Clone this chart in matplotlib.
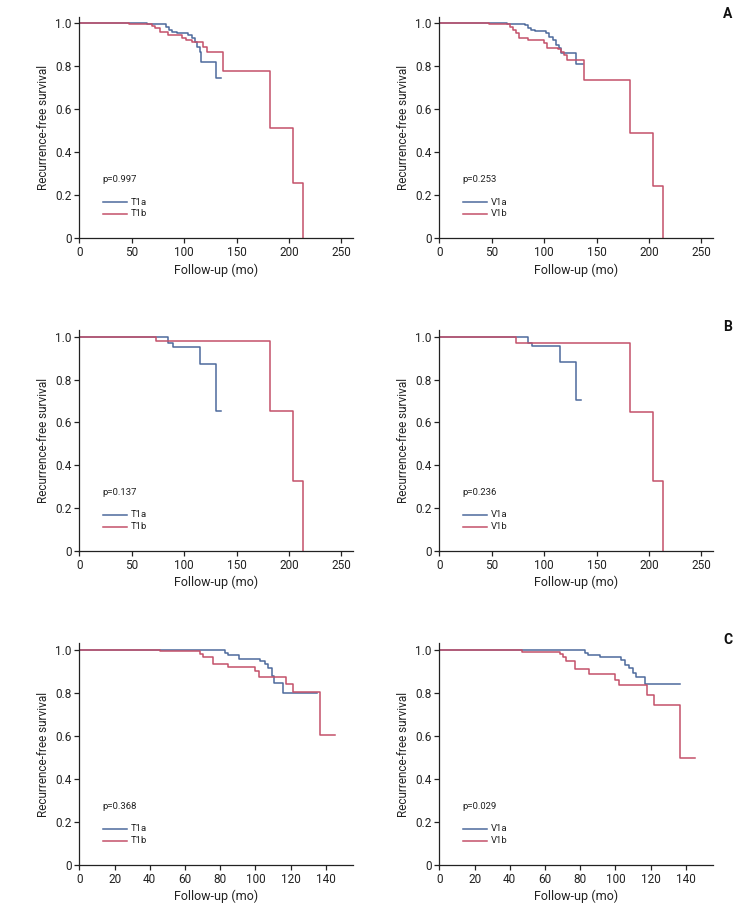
import matplotlib
matplotlib.use("Agg")
import matplotlib.pyplot as plt

plt.rcParams['font.family'] = ['Roboto', 'DejaVu Sans']

BLUE = "#4d6a9c"
RED = "#c4516a"

# ---- Data (Kaplan-Meier step curves: time in months, survival) ----
# Panel A left: T1a / T1b
a_t1a_t = [0, 65, 83, 85.5, 88, 93, 104, 107, 110, 112, 115, 116.5, 130, 135.5]
a_t1a_s = [1, 0.997, 0.984, 0.969, 0.961, 0.955, 0.946, 0.930, 0.915, 0.891, 0.868, 0.821, 0.744, 0.744]
a_t1b_t = [0, 47, 69, 72, 77, 85, 97.5, 102, 107, 118, 122, 137, 182, 204, 213]
a_t1b_s = [1, 0.997, 0.989, 0.977, 0.961, 0.946, 0.933, 0.922, 0.912, 0.891, 0.866, 0.778, 0.515, 0.256, 0]
# Panel A right: V1a / V1b
a_v1a_t = [0, 65, 82, 84.5, 87.6, 91, 102, 105, 108, 111.5, 114.6, 116, 130.5, 137]
a_v1a_s = [1, 0.998, 0.992, 0.977, 0.969, 0.965, 0.953, 0.938, 0.922, 0.899, 0.884, 0.860, 0.809, 0.809]
a_v1b_t = [0, 47, 67.6, 70, 73, 75.6, 84.5, 100, 102.5, 113, 115.6, 118.7, 122, 138, 182, 204, 213]
a_v1b_s = [1, 0.997, 0.984, 0.969, 0.953, 0.930, 0.922, 0.907, 0.887, 0.880, 0.868, 0.853, 0.829, 0.736, 0.49, 0.245, 0]
# Panel B left
b_t1a_t = [0, 23, 85, 89, 115, 130, 135.6]
b_t1a_s = [1, 0.997, 0.969, 0.953, 0.871, 0.653, 0.653]
b_t1b_t = [0, 73, 182, 204, 213.5]
b_t1b_s = [1, 0.980, 0.655, 0.325, 0]
# Panel B right
b_v1a_t = [0, 23, 85, 88.6, 115, 130, 135.6]
b_v1a_s = [1, 0.997, 0.969, 0.957, 0.881, 0.705, 0.705]
b_v1b_t = [0, 73, 182, 204, 213.5]
b_v1b_s = [1, 0.970, 0.65, 0.325, 0]
# Panel C left
c_t1a_t = [0, 46, 82.7, 84.6, 91, 102.5, 105.4, 107.3, 109.2, 110.5, 115.8, 135]
c_t1a_s = [1, 0.998, 0.988, 0.975, 0.96, 0.949, 0.933, 0.915, 0.879, 0.848, 0.801, 0.801]
c_t1b_t = [0, 46, 68.5, 70.4, 76, 84.6, 99.7, 102.2, 117.3, 121.5, 137, 145]
c_t1b_s = [1, 0.995, 0.98, 0.965, 0.937, 0.921, 0.902, 0.874, 0.843, 0.805, 0.605, 0.605]
# Panel C right
c_v1a_t = [0, 44, 82.7, 84.6, 91.2, 103.1, 105.4, 107.8, 110.1, 111.6, 116.7, 137]
c_v1a_s = [1, 0.998, 0.988, 0.977, 0.965, 0.952, 0.93, 0.915, 0.895, 0.872, 0.843, 0.843]
c_v1b_t = [0, 47, 68.5, 70, 72, 77, 85, 100, 102, 118, 122, 137, 145]
c_v1b_s = [1, 0.99, 0.98, 0.965, 0.95, 0.912, 0.887, 0.862, 0.835, 0.79, 0.742, 0.497, 0.497]

p_values = ["p=0.997", "p=0.253", "p=0.137", "p=0.236", "p=0.368", "p=0.029"]
panel_letters = ["A", "B", "C"]
y_ticks = [0, 0.2, 0.4, 0.6, 0.8, 1.0]
y_ticklabels = ["0", "0.2", "0.4", "0.6", "0.8", "1.0"]
x_ticks_long = [0, 50, 100, 150, 200, 250]
x_ticks_short = [0, 20, 40, 60, 80, 100, 120, 140]

panels = [
    (a_t1a_t, a_t1a_s, a_t1b_t, a_t1b_s, ("T1a", "T1b"), x_ticks_long, 261),
    (a_v1a_t, a_v1a_s, a_v1b_t, a_v1b_s, ("V1a", "V1b"), x_ticks_long, 261),
    (b_t1a_t, b_t1a_s, b_t1b_t, b_t1b_s, ("T1a", "T1b"), x_ticks_long, 261),
    (b_v1a_t, b_v1a_s, b_v1b_t, b_v1b_s, ("V1a", "V1b"), x_ticks_long, 261),
    (c_t1a_t, c_t1a_s, c_t1b_t, c_t1b_s, ("T1a", "T1b"), x_ticks_short, 155.5),
    (c_v1a_t, c_v1a_s, c_v1b_t, c_v1b_s, ("V1a", "V1b"), x_ticks_short, 155.5),
]

W, H = 754, 915
fig = plt.figure(figsize=(W / 100, H / 100), dpi=100)

lefts = [79.3, 439.3]
width = 273.7
tops = [16.7, 330.0, 643.3]
bottoms = [238.3, 551.0, 865.0]

for i, (ta, sa, tb, sb, names, xt, xmax) in enumerate(panels):
    row, col = divmod(i, 2)
    l = lefts[col] / W
    b = (H - bottoms[row]) / H
    h = (bottoms[row] - tops[row]) / H
    ax = fig.add_axes([l, b, width / W, h])
    ax.step(ta, sa, where='post', color=BLUE, lw=1.1)
    ax.step(tb, sb, where='post', color=RED, lw=1.1)
    ax.set_xlim(0, xmax)
    ax.set_ylim(0, 1.031)
    ax.set_yticks(y_ticks)
    ax.set_yticklabels(y_ticklabels)
    ax.set_xticks(xt)
    ax.spines['top'].set_visible(False)
    ax.spines['right'].set_visible(False)
    for sp in ('left', 'bottom'):
        ax.spines[sp].set_linewidth(0.9)
        ax.spines[sp].set_color('#222222')
    ax.tick_params(direction='out', length=3.5, width=0.9, labelsize=8.5, colors='#222222', pad=2)
    ax.set_xlabel("Follow-up (mo)", fontsize=9, labelpad=3, color='#222222')
    ax.set_ylabel("Recurrence-free survival", fontsize=8.5, labelpad=4, color='#222222')
    # p-value and legend
    ax.text(0.0855, 0.265, p_values[i], transform=ax.transAxes, fontsize=6.8,
            va='center', ha='left', color='#222222')
    ax.plot([0.0855, 0.173], [0.163, 0.163], transform=ax.transAxes, color=BLUE, lw=1.1)
    ax.plot([0.0855, 0.173], [0.11, 0.11], transform=ax.transAxes, color=RED, lw=1.1)
    ax.text(0.187, 0.163, names[0], transform=ax.transAxes, fontsize=6.8,
            va='center', ha='left', color='#222222')
    ax.text(0.187, 0.11, names[1], transform=ax.transAxes, fontsize=6.8,
            va='center', ha='left', color='#222222')
    if col == 1:
        fig.text(723 / W, (H - (tops[row] - 3)) / H, panel_letters[row],
                 fontsize=10, fontweight='bold', ha='left', va='center', color='#111111')

fig.savefig("out.png", dpi=100)
